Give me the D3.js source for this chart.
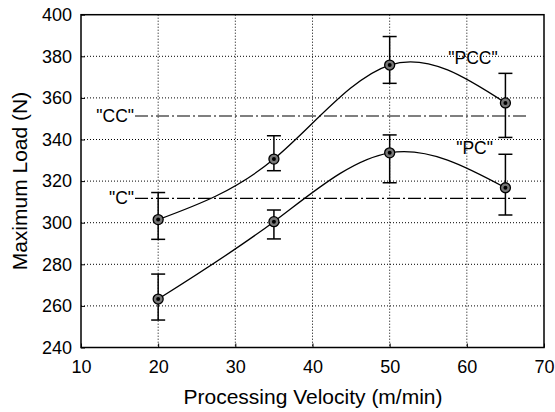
<!DOCTYPE html>
<html><head><meta charset="utf-8">
<script src="https://cdn.jsdelivr.net/npm/d3@7"></script>
<style>body{margin:0;background:#fff}svg{display:block}text{font-family:"Liberation Sans",Arial,Helvetica,sans-serif}</style>
</head><body>
<svg id="c" width="555" height="412"></svg>
<script>
const velocity = [20, 35, 50, 65];
const pccMean = [301.5, 330.6, 375.8, 357.6];
const pccLow  = [292, 325, 367, 341];
const pccHigh = [314.5, 341.8, 389.5, 371.8];
const pcMean = [263.3, 300.5, 333.6, 316.8];
const pcLow  = [253.2, 292.2, 319.2, 303.7];
const pcHigh = [275.3, 306.1, 342.2, 332.9];
const ccLevel = 351.3;
const cLevel = 311.7;
const refLineX = [17, 67.8];
const xTicks = [10, 20, 30, 40, 50, 60, 70];
const yTicks = [240, 260, 280, 300, 320, 340, 360, 380, 400];

const svg = d3.select("#c");
const L = 81, R = 544, T = 14.7, B = 347.5;
const x = d3.scaleLinear().domain([10, 70]).range([L, R]);
const y = d3.scaleLinear().domain([240, 400]).range([B, T]);

// grid
const g = svg.append("g");
g.selectAll(".gx").data(xTicks.slice(1, -1)).join("line")
  .attr("x1", d => x(d)).attr("x2", d => x(d)).attr("y1", T).attr("y2", B)
  .attr("stroke", "#000").attr("stroke-width", 1).attr("stroke-dasharray", "1,2");
g.selectAll(".gy").data(yTicks.slice(1, -1)).join("line")
  .attr("y1", d => y(d)).attr("y2", d => y(d)).attr("x1", L).attr("x2", R)
  .attr("stroke", "#000").attr("stroke-width", 1).attr("stroke-dasharray", "1,2");

// axes
const xAxis = d3.axisBottom(x).tickValues(xTicks).tickSize(-4).tickPadding(13);
const yAxis = d3.axisLeft(y).tickValues(yTicks).tickSize(-4).tickPadding(9);
const gx = svg.append("g").attr("transform", `translate(0,${B})`).call(xAxis);
const gy = svg.append("g").attr("transform", `translate(${L},0)`).call(yAxis);
[gx, gy].forEach(a => {
  a.attr("font-size", 18).attr("font-family", "Liberation Sans, Arial, sans-serif");
  a.select(".domain").remove();
  a.selectAll("text").attr("fill", "#000");
  a.selectAll("line").attr("stroke", "#000");
});
svg.append("rect").attr("x", L).attr("y", T).attr("width", R - L).attr("height", B - T)
  .attr("fill", "none").attr("stroke", "#000").attr("stroke-width", 1.5);

// reference lines
[[ccLevel, '"CC"'], [cLevel, '"C"']].forEach(([v, lab]) => {
  svg.append("line").attr("x1", x(refLineX[0])).attr("x2", x(refLineX[1]))
    .attr("y1", y(v)).attr("y2", y(v)).attr("stroke", "#000").attr("stroke-width", 1.2)
    .attr("stroke-dasharray", "13,3,2,3");
  svg.append("text").attr("x", x(refLineX[0]) - 1).attr("y", y(v)).attr("dy", "0.35em")
    .attr("text-anchor", "end").attr("font-size", 17.5).text(lab);
});

// series
const line = d3.line().x(d => x(d[0])).y(d => y(d[1])).curve(d3.curveNatural);
function series(mean, lo, hi, label, lx, ly) {
  const pts = velocity.map((v, i) => [v, mean[i]]);
  svg.append("path").attr("d", line(pts)).attr("fill", "none").attr("stroke", "#000").attr("stroke-width", 1.3);
  velocity.forEach((v, i) => {
    const eg = svg.append("g").attr("stroke", "#000").attr("stroke-width", 1.5);
    eg.append("line").attr("x1", x(v)).attr("x2", x(v)).attr("y1", y(lo[i])).attr("y2", y(hi[i]));
    [lo[i], hi[i]].forEach(e => eg.append("line").attr("x1", x(v) - 7).attr("x2", x(v) + 7).attr("y1", y(e)).attr("y2", y(e)));
    svg.append("circle").attr("cx", x(v)).attr("cy", y(mean[i])).attr("r", 5)
      .attr("fill", "#777").attr("stroke", "#000").attr("stroke-width", 1.3);
    svg.append("circle").attr("cx", x(v)).attr("cy", y(mean[i])).attr("r", 2).attr("fill", "#000");
  });
  svg.append("text").attr("x", x(lx)).attr("y", y(ly)).attr("dy", "0.35em")
    .attr("text-anchor", "middle").attr("font-size", 17.5).text(label);
}
series(pccMean, pccLow, pccHigh, '"PCC"', 60.8, 379.3);
series(pcMean, pcLow, pcHigh, '"PC"', 61.0, 335.8);

// titles
svg.append("text").attr("x", (L + R) / 2 + 0.5).attr("y", 404).attr("text-anchor", "middle")
  .attr("font-size", 21).text("Processing Velocity (m/min)");
svg.append("text").attr("transform", `translate(27,${(T + B) / 2}) rotate(-90)`)
  .attr("text-anchor", "middle").attr("font-size", 21).text("Maximum Load (N)");
</script>
</body></html>
